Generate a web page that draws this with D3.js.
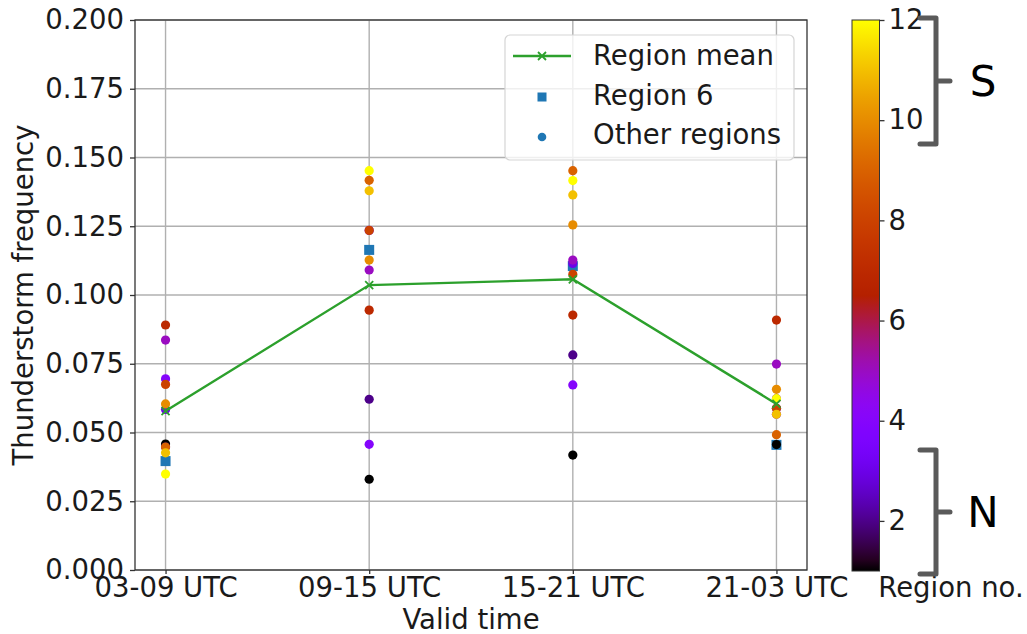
<!DOCTYPE html>
<html>
<head>
<meta charset="utf-8">
<script src="https://cdn.jsdelivr.net/npm/d3@7"></script>
<style>
  html, body { margin: 0; padding: 0; background: #fff; }
  svg { display: block; font-family: "DejaVu Sans", sans-serif; }
</style>
</head>
<body>
<svg id="chart" width="1027" height="634"></svg>
<script>
// Valid-time windows along the x axis
const categories = ["03-09 UTC", "09-15 UTC", "15-21 UTC", "21-03 UTC"];

// Mean thunderstorm frequency over all regions
const regionMean = [0.0578, 0.1036, 0.1057, 0.0604];

// Region 6 frequency
const region6 = [0.0396, 0.1164, 0.1105, 0.0455];

// Other regions: region numbers and their frequency per valid time
const otherRegionNos = [1, 2, 3, 4, 5, 7, 8, 9, 10, 11, 12];
const freq0309 = [0.0458, 0.0447, 0.0584, 0.0695, 0.0836, 0.0891, 0.0675, 0.0447, 0.0604, 0.0426, 0.0349];
const freq0915 = [0.0330, 0.0621, 0.1235, 0.0457, 0.1091, 0.0945, 0.1235, 0.1417, 0.1127, 0.1379, 0.1452];
const freq1521 = [0.0418, 0.0782, 0.1115, 0.0673, 0.1127, 0.0927, 0.1075, 0.1452, 0.1255, 0.1364, 0.1416];
const freq2103 = [0.0456, 0.0588, 0.0623, 0.0566, 0.0749, 0.0909, 0.0588, 0.0492, 0.0657, 0.0566, 0.0623];
const otherFreqs = [freq0309, freq0915, freq1521, freq2103];

// Axis ticks
const yTicks = [0, 0.025, 0.05, 0.075, 0.1, 0.125, 0.15, 0.175, 0.2];
const cbTicks = [2, 4, 6, 8, 10, 12];

const svg = d3.select("#chart");
const FONT = 27.5;
const TEXT = "#1a1a1a";

const plot = { left: 135, right: 807, top: 20, bottom: 570 };
const x = d3.scaleLinear().domain([-0.15, 3.15]).range([plot.left, plot.right]);
const y = d3.scaleLinear().domain([0, 0.2]).range([plot.bottom, plot.top]);

// matplotlib "gnuplot" colormap
function gnuplot(t) {
  t = Math.max(0, Math.min(1, t));
  const r = Math.sqrt(t), g = t * t * t, b = Math.max(0, Math.sin(2 * Math.PI * t));
  return d3.rgb(r * 255, g * 255, b * 255).toString();
}
const color = d3.scaleSequential(gnuplot).domain([1, 12]);

// Grid
const grid = svg.append("g");
grid.selectAll("line.gy").data(yTicks).join("line")
  .attr("x1", plot.left).attr("x2", plot.right)
  .attr("y1", d => y(d)).attr("y2", d => y(d))
  .attr("stroke", "#b0b0b0").attr("stroke-width", 1.4);
grid.selectAll("line.gx").data(categories).join("line")
  .attr("x1", (d, i) => x(i)).attr("x2", (d, i) => x(i))
  .attr("y1", plot.top).attr("y2", plot.bottom)
  .attr("stroke", "#b0b0b0").attr("stroke-width", 1.4);

// Axes
const yAxis = d3.axisLeft(y).tickValues(yTicks).tickFormat(d3.format(".3f")).tickSize(5).tickPadding(6);
const gy = svg.append("g").attr("transform", `translate(${plot.left},0)`).call(yAxis);
const xAxis = d3.axisBottom(x).tickValues([0, 1, 2, 3]).tickFormat(i => categories[i]).tickSize(4).tickPadding(3);
const gx = svg.append("g").attr("transform", `translate(0,${plot.bottom})`).call(xAxis);
[gx, gy].forEach(g => {
  g.select(".domain").remove();
  g.selectAll("line").attr("stroke", "#333").attr("stroke-width", 1.3);
  g.selectAll("text").attr("font-size", FONT).attr("fill", TEXT)
    .attr("font-family", "DejaVu Sans");
});
gx.selectAll("text").attr("dy", null).attr("y", 27);

// Region 6 squares
const sq = 10;
svg.append("g").selectAll("rect").data(region6).join("rect")
  .attr("x", (d, i) => x(i) - sq / 2).attr("y", d => y(d) - sq / 2)
  .attr("width", sq).attr("height", sq).attr("fill", "#1f77b4");

// Other regions, coloured by region number
const pts = [];
otherFreqs.forEach((arr, i) => arr.forEach((v, k) => pts.push({ i, v, r: otherRegionNos[k] })));
svg.append("g").selectAll("circle").data(pts).join("circle")
  .attr("cx", d => x(d.i)).attr("cy", d => y(d.v)).attr("r", 4.6)
  .attr("fill", d => color(d.r));

// Region mean line with x markers
const green = "#2ca02c";
svg.append("path").datum(regionMean)
  .attr("d", d3.line().x((d, i) => x(i)).y(d => y(d)))
  .attr("fill", "none").attr("stroke", green).attr("stroke-width", 2.4);
const xm = 4;
const mk = svg.append("g").selectAll("path").data(regionMean).join("path")
  .attr("d", (d, i) => {
    const cx = x(i), cy = y(d);
    return `M${cx - xm},${cy - xm}L${cx + xm},${cy + xm}M${cx - xm},${cy + xm}L${cx + xm},${cy - xm}`;
  })
  .attr("stroke", green).attr("stroke-width", 1.8).attr("fill", "none");

// Plot frame
svg.append("rect")
  .attr("x", plot.left).attr("y", plot.top)
  .attr("width", plot.right - plot.left).attr("height", plot.bottom - plot.top)
  .attr("fill", "none").attr("stroke", "#333").attr("stroke-width", 1.3);

// Axis titles
svg.append("text").attr("x", (plot.left + plot.right) / 2).attr("y", 629)
  .attr("text-anchor", "middle").attr("font-size", FONT).attr("fill", TEXT)
  .text("Valid time");
svg.append("text").attr("transform", `translate(33,${(plot.top + plot.bottom) / 2}) rotate(-90)`)
  .attr("text-anchor", "middle").attr("font-size", FONT).attr("fill", TEXT)
  .text("Thunderstorm frequency");

// Legend
const lg = svg.append("g");
lg.append("rect").attr("x", 505).attr("y", 35).attr("width", 289).attr("height", 125)
  .attr("rx", 5).attr("fill", "#fff").attr("fill-opacity", 0.8)
  .attr("stroke", "#d5d5d5").attr("stroke-width", 1.2);
lg.append("line").attr("x1", 513).attr("x2", 571).attr("y1", 56).attr("y2", 56)
  .attr("stroke", green).attr("stroke-width", 2.4);
lg.append("path").attr("d", `M${542 - xm},${56 - xm}L${542 + xm},${56 + xm}M${542 - xm},${56 + xm}L${542 + xm},${56 - xm}`)
  .attr("stroke", green).attr("stroke-width", 1.8);
lg.append("rect").attr("x", 542 - 4.5).attr("y", 97 - 4.5).attr("width", 9).attr("height", 9).attr("fill", "#1f77b4");
lg.append("circle").attr("cx", 542).attr("cy", 137).attr("r", 4.3).attr("fill", "#1f77b4");
const legendLabels = ["Region mean", "Region 6", "Other regions"];
const legendBase = [65, 104.5, 144];
lg.selectAll("text.l").data(legendLabels).join("text")
  .attr("x", 593).attr("y", (d, i) => legendBase[i])
  .attr("font-size", FONT).attr("fill", TEXT).text(d => d);

// Colorbar
const cb = { x: 852, w: 27.5 };
const cy = d3.scaleLinear().domain([1, 12]).range([571, 20]);
const defs = svg.append("defs");
const grad = defs.append("linearGradient").attr("id", "cbgrad")
  .attr("x1", 0).attr("y1", 1).attr("x2", 0).attr("y2", 0);
d3.range(0, 1.0001, 0.02).forEach(t => {
  grad.append("stop").attr("offset", t).attr("stop-color", gnuplot(t));
});
svg.append("rect").attr("x", cb.x).attr("y", cy(12)).attr("width", cb.w)
  .attr("height", cy(1) - cy(12)).attr("fill", "url(#cbgrad)")
  .attr("stroke", "#333").attr("stroke-width", 1);
const cbAxis = d3.axisRight(cy).tickValues(cbTicks).tickSize(5).tickPadding(4);
const gcb = svg.append("g").attr("transform", `translate(${cb.x + cb.w},0)`).call(cbAxis);
gcb.select(".domain").remove();
gcb.selectAll("line").attr("stroke", "#333").attr("stroke-width", 1.3);
gcb.selectAll("text").attr("font-size", FONT).attr("fill", TEXT).attr("font-family", "DejaVu Sans");

svg.append("text").attr("x", 951).attr("y", 597).attr("text-anchor", "middle")
  .attr("font-size", FONT).attr("fill", TEXT).text("Region no.");

// Brackets grouping southern and northern regions
const brackets = [
  { top: 18, bottom: 144, label: "S" },
  { top: 450, bottom: 574, label: "N" }
];
const bx = 936, bl = 920, bt = 950;
brackets.forEach(b => {
  const mid = (b.top + b.bottom) / 2;
  svg.append("path")
    .attr("d", `M${bl},${b.top}L${bx},${b.top}L${bx},${b.bottom}L${bl},${b.bottom}M${bx},${mid}L${bt},${mid}`)
    .attr("fill", "none").attr("stroke", "#5a5a5a").attr("stroke-width", 5)
    .attr("stroke-linejoin", "round").attr("stroke-linecap", "round");
  svg.append("text").attr("x", 983).attr("y", mid + 15).attr("text-anchor", "middle")
    .attr("font-size", 42).attr("fill", "#000").text(b.label);
});
</script>
</body>
</html>
